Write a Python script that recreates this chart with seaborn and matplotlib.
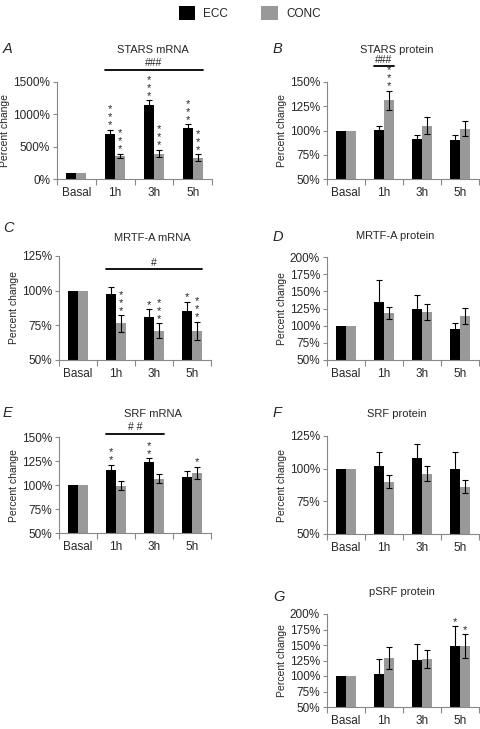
import numpy as np
import pandas as pd
import matplotlib
matplotlib.use("Agg")
import matplotlib.pyplot as plt
import seaborn as sns
from matplotlib.patches import Patch
from matplotlib.ticker import PercentFormatter
from matplotlib.transforms import blended_transform_factory

sns.set_theme(style="ticks")
plt.rcParams["font.family"] = ["Liberation Sans", "DejaVu Sans"]

times = ["Basal", "1h", "3h", "5h"]
groups = ["ECC", "CONC"]
colors = ["#000000", "#999999"]

# A - STARS mRNA
stars_mrna_ecc = [100, 690, 1140, 785]
stars_mrna_ecc_err = [0, 70, 75, 60]
stars_mrna_conc = [100, 357, 393, 331]
stars_mrna_conc_err = [0, 35, 60, 50]
stars_mrna_sig_ecc = [0, 3, 3, 3]
stars_mrna_sig_conc = [0, 3, 3, 3]

# B - STARS protein
stars_prot_ecc = [100, 101, 91, 90]
stars_prot_ecc_err = [0, 3.5, 4, 5]
stars_prot_conc = [100, 131, 105, 102]
stars_prot_conc_err = [0, 10, 9, 8]
stars_prot_sig_ecc = [0, 0, 0, 0]
stars_prot_sig_conc = [0, 3, 0, 0]

# C - MRTF-A mRNA
mrtf_mrna_ecc = [100, 97.6, 80.8, 85.1]
mrtf_mrna_ecc_err = [0, 5, 6, 7]
mrtf_mrna_conc = [100, 76.4, 71.1, 71.1]
mrtf_mrna_conc_err = [0, 6, 5.5, 6.5]
mrtf_mrna_sig_ecc = [0, 0, 1, 1]
mrtf_mrna_sig_conc = [0, 3, 3, 3]

# D - MRTF-A protein
mrtf_prot_ecc = [100, 135, 125, 94.6]
mrtf_prot_ecc_err = [0, 31, 19, 10]
mrtf_prot_conc = [100, 118, 120, 114]
mrtf_prot_conc_err = [0, 9, 12, 12]

# E - SRF mRNA
srf_mrna_ecc = [100, 116, 123.6, 108.3]
srf_mrna_ecc_err = [0, 5, 4.5, 6]
srf_mrna_conc = [100, 99.3, 106.6, 112.5]
srf_mrna_conc_err = [0, 5, 5, 6.5]
srf_mrna_sig_ecc = [0, 2, 2, 0]
srf_mrna_sig_conc = [0, 0, 0, 1]

# F - SRF protein
srf_prot_ecc = [100, 102, 108, 99.8]
srf_prot_ecc_err = [0, 11, 11, 13]
srf_prot_conc = [100, 90, 96.2, 86]
srf_prot_conc_err = [0, 5, 6, 5]

# G - pSRF protein
psrf_prot_ecc = [100, 103, 125.5, 148.6]
psrf_prot_ecc_err = [0, 24, 26, 32]
psrf_prot_conc = [100, 129.3, 127.1, 148.6]
psrf_prot_conc_err = [0, 18, 15, 19]
psrf_prot_sig_ecc = [0, 0, 0, 1]
psrf_prot_sig_conc = [0, 0, 0, 1]

W, H = 480, 729
fig = plt.figure(figsize=(W / 100, H / 100), dpi=100)


def box(x0, y0, x1, y1):
    return [x0 / W, 1 - y1 / H, (x1 - x0) / W, (y1 - y0) / H]


def draw_panel(rect, letter, letter_xy, title, title_xy, ecc, ecc_err, conc, conc_err,
               ylim, ystep, sig_ecc=None, sig_conc=None, bracket=None):
    ax = fig.add_axes(box(*rect))
    df = pd.DataFrame({
        "Time": times * 2,
        "Group": ["ECC"] * 4 + ["CONC"] * 4,
        "Value": ecc + conc,
    })
    sns.barplot(data=df, x="Time", y="Value", hue="Group", order=times,
                hue_order=groups, palette=colors, width=0.52, gap=0,
                errorbar=None, saturation=1, linewidth=0, legend=False, ax=ax)

    sigs = [sig_ecc or [0] * 4, sig_conc or [0] * 4]
    for cont, errs, sig in zip(ax.containers, [ecc_err, conc_err], sigs):
        for bar, e, n in zip(cont, errs, sig):
            x = bar.get_x() + bar.get_width() / 2
            y = bar.get_height()
            if e > 0:
                ax.errorbar(x, y, yerr=e, color="black", capsize=2.5,
                            elinewidth=0.8, capthick=0.8)
            if n:
                ax.annotate("\n".join("*" * n), xy=(x, y + e), xytext=(0, -0.5),
                            textcoords="offset points", ha="center", va="bottom",
                            fontsize=8, linespacing=0.75)

    if bracket:
        i0, i1, ypos, label = bracket
        trans = blended_transform_factory(ax.transData, ax.transAxes)
        b0 = ax.containers[0][i0]
        b1 = ax.containers[1][i1]
        x0 = b0.get_x()
        x1 = b1.get_x() + b1.get_width()
        ax.plot([x0, x1], [ypos, ypos], transform=trans, color="black",
                lw=1.3, clip_on=False)
        ax.annotate(label, xy=((x0 + x1) / 2, ypos), xycoords=trans,
                    xytext=(0, 1), textcoords="offset points",
                    ha="center", va="bottom", fontsize=7.5)

    ax.set_xlim(-0.5, 3.5)
    ax.set_ylim(*ylim)
    ax.set_yticks(np.arange(ylim[0], ylim[1] + 1, ystep))
    ax.yaxis.set_major_formatter(PercentFormatter(decimals=0))
    ax.set_xticks(range(4))
    ax.set_xticklabels(times)
    ax.set_xticks([-0.5, 0.5, 1.5, 2.5, 3.5], minor=True)
    ax.tick_params(axis="x", which="major", length=0, pad=6, labelsize=8.5)
    ax.tick_params(axis="x", which="minor", length=4, width=0.8, color="#888888")
    ax.tick_params(axis="y", length=3, width=0.8, color="#888888", labelsize=8.5, pad=2)
    ax.set_xlabel("")
    ax.set_ylabel("Percent change", fontsize=7.5, labelpad=2)
    sns.despine(ax=ax)
    for s in ["left", "bottom"]:
        ax.spines[s].set_color("#888888")
        ax.spines[s].set_linewidth(0.8)

    fig.text(letter_xy[0] / W, 1 - letter_xy[1] / H, letter, fontsize=10.5,
             style="italic", ha="left", va="center")
    fig.text(title_xy[0] / W, 1 - title_xy[1] / H, title, fontsize=8,
             ha="center", va="center")
    return ax


draw_panel((57, 82, 212, 179), "A", (3, 49), "STARS mRNA", (153, 50),
           stars_mrna_ecc, stars_mrna_ecc_err, stars_mrna_conc, stars_mrna_conc_err,
           (0, 1500), 500, stars_mrna_sig_ecc, stars_mrna_sig_conc,
           bracket=(1, 3, 1.127, "###"))

draw_panel((327, 82, 479, 179), "B", (273, 49), "STARS protein", (397, 50),
           stars_prot_ecc, stars_prot_ecc_err, stars_prot_conc, stars_prot_conc_err,
           (50, 150), 25, stars_prot_sig_ecc, stars_prot_sig_conc,
           bracket=(1, 1, 1.165, "###"))

draw_panel((59, 256, 211, 360), "C", (3, 228), "MRTF-A mRNA", (152, 238),
           mrtf_mrna_ecc, mrtf_mrna_ecc_err, mrtf_mrna_conc, mrtf_mrna_conc_err,
           (50, 125), 25, mrtf_mrna_sig_ecc, mrtf_mrna_sig_conc,
           bracket=(1, 3, 0.875, "#"))

draw_panel((327, 257, 479, 360), "D", (273, 237), "MRTF-A protein", (395, 236),
           mrtf_prot_ecc, mrtf_prot_ecc_err, mrtf_prot_conc, mrtf_prot_conc_err,
           (50, 200), 25)

draw_panel((59, 437, 211, 533), "E", (3, 413), "SRF mRNA", (153, 414),
           srf_mrna_ecc, srf_mrna_ecc_err, srf_mrna_conc, srf_mrna_conc_err,
           (50, 150), 25, srf_mrna_sig_ecc, srf_mrna_sig_conc,
           bracket=(1, 2, 1.034, "# #"))

draw_panel((327, 436, 479, 534), "F", (273, 413), "SRF protein", (397, 414),
           srf_prot_ecc, srf_prot_ecc_err, srf_prot_conc, srf_prot_conc_err,
           (50, 125), 25)

draw_panel((327, 614, 479, 707), "G", (273, 597), "pSRF protein", (402, 592),
           psrf_prot_ecc, psrf_prot_ecc_err, psrf_prot_conc, psrf_prot_conc_err,
           (50, 200), 25, psrf_prot_sig_ecc, psrf_prot_sig_conc)

handles = [Patch(facecolor=c, edgecolor="none") for c in colors]
fig.legend(handles, groups, loc="upper center", bbox_to_anchor=(0.52, 1.0),
           ncol=2, frameon=False, fontsize=8.5, handlelength=1.4, handleheight=1.5,
           columnspacing=2.8, handletextpad=0.7, borderaxespad=0.1)

fig.savefig("out.png", dpi=100)
